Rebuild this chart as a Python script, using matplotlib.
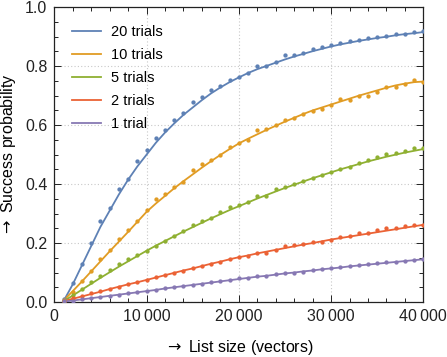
import matplotlib
matplotlib.use("Agg")
import matplotlib.pyplot as plt
from matplotlib.ticker import MultipleLocator, FuncFormatter

plt.rcParams['font.family'] = ['Liberation Sans', 'DejaVu Sans']

list_size = [1000 * k for k in range(1, 41)]

labels = ["20 trials", "10 trials", "5 trials", "2 trials", "1 trial"]
colors = ["#5E81B5", "#E19C24", "#8FB032", "#EB6235", "#8778B3"]

dots_20 = [0.010, 0.063, 0.128, 0.200, 0.275, 0.320, 0.383, 0.418, 0.480, 0.515,
           0.555, 0.585, 0.618, 0.643, 0.677, 0.697, 0.720, 0.733, 0.752, 0.763,
           0.777, 0.801, 0.802, 0.814, 0.839, 0.838, 0.845, 0.858, 0.866, 0.871,
           0.880, 0.885, 0.889, 0.895, 0.900, 0.904, 0.911, 0.909, 0.917, 0.918]
dots_10 = [0.007, 0.035, 0.070, 0.105, 0.145, 0.177, 0.215, 0.245, 0.275, 0.313,
           0.348, 0.366, 0.389, 0.408, 0.447, 0.467, 0.481, 0.499, 0.525, 0.539,
           0.549, 0.582, 0.587, 0.601, 0.618, 0.624, 0.637, 0.649, 0.654, 0.667,
           0.688, 0.686, 0.700, 0.700, 0.711, 0.731, 0.731, 0.739, 0.754, 0.746]
dots_5 = [0.005, 0.024, 0.045, 0.067, 0.088, 0.108, 0.128, 0.146, 0.158, 0.173,
          0.191, 0.208, 0.224, 0.240, 0.262, 0.275, 0.285, 0.306, 0.321, 0.330,
          0.340, 0.360, 0.360, 0.382, 0.391, 0.402, 0.411, 0.421, 0.430, 0.440,
          0.453, 0.459, 0.470, 0.481, 0.493, 0.503, 0.507, 0.513, 0.523, 0.522]
dots_2 = [0.003, 0.012, 0.022, 0.030, 0.037, 0.044, 0.052, 0.060, 0.068, 0.074,
          0.084, 0.092, 0.097, 0.106, 0.116, 0.122, 0.129, 0.137, 0.145, 0.152,
          0.157, 0.167, 0.168, 0.176, 0.190, 0.192, 0.196, 0.202, 0.204, 0.212,
          0.221, 0.225, 0.233, 0.235, 0.244, 0.252, 0.252, 0.258, 0.261, 0.263]
dots_1 = [0.002, 0.005, 0.009, 0.013, 0.016, 0.021, 0.025, 0.029, 0.033, 0.037,
          0.041, 0.046, 0.050, 0.054, 0.058, 0.061, 0.067, 0.071, 0.075, 0.080,
          0.080, 0.088, 0.089, 0.094, 0.099, 0.100, 0.103, 0.107, 0.111, 0.114,
          0.119, 0.122, 0.125, 0.129, 0.132, 0.135, 0.137, 0.139, 0.142, 0.145]

fit_20 = [0.003, 0.060, 0.125, 0.190, 0.255, 0.310, 0.365, 0.415, 0.460, 0.500,
          0.540, 0.575, 0.606, 0.635, 0.660, 0.685, 0.708, 0.728, 0.746, 0.762,
          0.777, 0.790, 0.801, 0.812, 0.823, 0.833, 0.842, 0.851, 0.859, 0.867,
          0.874, 0.880, 0.886, 0.891, 0.896, 0.900, 0.905, 0.909, 0.912, 0.916]
fit_10 = [0.005, 0.037, 0.070, 0.104, 0.138, 0.172, 0.205, 0.238, 0.272, 0.306,
          0.334, 0.360, 0.386, 0.410, 0.433, 0.456, 0.478, 0.499, 0.519, 0.538,
          0.554, 0.569, 0.584, 0.598, 0.612, 0.625, 0.638, 0.650, 0.660, 0.670,
          0.680, 0.690, 0.700, 0.709, 0.718, 0.727, 0.735, 0.741, 0.746, 0.748]
fit_5 = [0.003, 0.022, 0.042, 0.062, 0.082, 0.101, 0.120, 0.138, 0.156, 0.174,
         0.191, 0.207, 0.223, 0.239, 0.254, 0.269, 0.284, 0.298, 0.312, 0.325,
         0.338, 0.351, 0.363, 0.375, 0.387, 0.398, 0.409, 0.420, 0.430, 0.440,
         0.450, 0.459, 0.468, 0.477, 0.485, 0.493, 0.500, 0.507, 0.513, 0.519]
fit_2 = [0.003, 0.011, 0.019, 0.027, 0.035, 0.044, 0.052, 0.060, 0.067, 0.075,
         0.083, 0.091, 0.099, 0.107, 0.114, 0.122, 0.130, 0.137, 0.145, 0.152,
         0.158, 0.165, 0.171, 0.177, 0.183, 0.189, 0.195, 0.200, 0.206, 0.212,
         0.217, 0.222, 0.227, 0.232, 0.237, 0.242, 0.247, 0.252, 0.257, 0.262]
fit_1 = [0.0015, 0.005, 0.009, 0.013, 0.017, 0.021, 0.025, 0.029, 0.033, 0.037,
         0.041, 0.046, 0.050, 0.054, 0.058, 0.062, 0.066, 0.070, 0.074, 0.078,
         0.082, 0.086, 0.089, 0.093, 0.097, 0.100, 0.104, 0.107, 0.111, 0.114,
         0.117, 0.121, 0.124, 0.127, 0.130, 0.133, 0.136, 0.139, 0.142, 0.145]

dots = [dots_20, dots_10, dots_5, dots_2, dots_1]
fits = [fit_20, fit_10, fit_5, fit_2, fit_1]

fig = plt.figure(figsize=(4.47, 3.57), dpi=100)
ax = fig.add_axes([0.1215, 0.154, 0.8255, 0.8256])

for lab, col, d, f in zip(labels, colors, dots, fits):
    ax.plot(list_size, f, color=col, lw=1.3, label=lab, zorder=3)
    ax.plot(list_size, d, 'o', color=col, ms=3.1, mec='none', zorder=4)

ax.set_xlim(0, 40000)
ax.set_ylim(0, 1.0)
ax.xaxis.set_major_locator(MultipleLocator(10000))
ax.xaxis.set_minor_locator(MultipleLocator(2000))
ax.yaxis.set_major_locator(MultipleLocator(0.2))
ax.yaxis.set_minor_locator(MultipleLocator(0.05))

def xfmt(v, pos):
    v = int(round(v))
    if v == 0:
        return "0"
    return f"{v // 1000}\u2009{v % 1000:03d}"

ax.xaxis.set_major_formatter(FuncFormatter(xfmt))
ax.yaxis.set_major_formatter(FuncFormatter(lambda v, p: f"{v:.1f}"))

ax.grid(True, which='major', color='#c8c8c8', ls=(0, (1, 2)), lw=0.8)
ax.tick_params(which='both', direction='in', top=True, right=True,
               labelsize=11.5, colors='#222222', width=0.7, pad=5)
ax.tick_params(which='major', length=5)
ax.tick_params(which='minor', length=2.8)
for s in ax.spines.values():
    s.set_color('#222222')
    s.set_linewidth(0.9)

ax.set_xlabel(r"$\rightarrow$ List size (vectors)", fontsize=11.5, labelpad=10)
ax.set_ylabel(r"$\rightarrow$ Success probability", fontsize=11.5, labelpad=5)

leg = ax.legend(loc='upper left', frameon=False, fontsize=10.5,
                handlelength=2.0, handletextpad=0.7, labelspacing=0.62,
                borderaxespad=0.6, borderpad=0.6)

fig.savefig("out.png", dpi=100)
